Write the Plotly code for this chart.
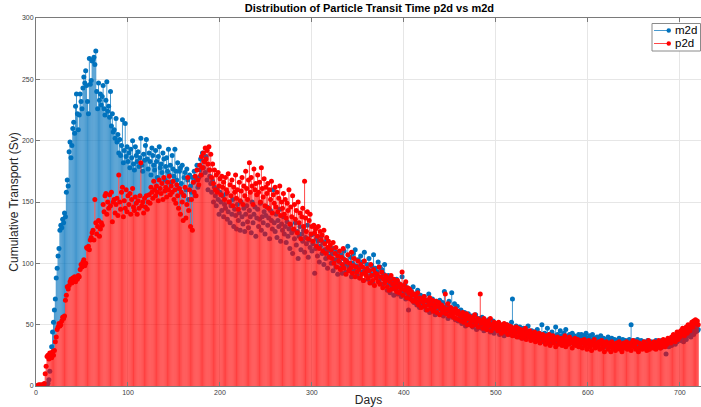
import plotly.graph_objects as go

days = list(range(1, 721))

m2d = [
0, 0, 0, 0, 0, 0, 0, 0, 0, 0,
0, 1, 2, 5, 12, 24, 32, 44, 52, 62,
71, 88, 96, 106, 112, 127, 131, 129, 136, 133,
141, 138, 158, 168, 163, 191, 199, 186, 196, 210,
215, 206, 228, 238, 222, 209, 221, 238, 232, 226,
243, 252, 247, 257, 245, 232, 222, 267, 246, 249,
265, 266, 268, 262, 273, 240, 226, 247, 233, 238,
229, 236, 245, 226, 221, 233, 248, 224, 228, 219,
240, 212, 222, 207, 209, 202, 218, 199, 205, 190,
201, 188, 196, 217, 182, 192, 214, 187, 195, 183,
190, 178, 193, 186, 200, 181, 176, 195, 188, 183,
191, 179, 186, 202, 180, 175, 189, 184, 196, 201,
185, 177, 190, 183, 172, 194, 188, 180, 176, 192,
183, 170, 187, 195, 178, 181, 174, 190, 185, 168,
179, 186, 175, 193, 172, 180, 166, 188, 177, 171,
193, 175, 168, 182, 161, 175, 178, 165, 180, 156,
170, 174, 160, 177, 168, 152, 172, 163, 158, 170,
166, 175, 155, 168, 180, 162, 170, 176, 185, 172,
190, 178, 183, 174, 187, 168, 160, 176, 171, 165,
158, 167, 150, 162, 155, 147, 160, 152, 140, 158,
150, 143, 155, 138, 148, 145, 157, 136, 142, 150,
133, 147, 140, 152, 130, 144, 139, 128, 148, 135,
141, 127, 150, 138, 132, 145, 126, 140, 147, 134,
129, 143, 138, 125, 150, 133, 140, 146, 122, 137,
144, 130, 136, 149, 127, 138, 133, 142, 124, 139,
146, 131, 137, 120, 143, 135, 128, 160, 133, 126,
140, 121, 135, 130, 144, 118, 132, 127, 138, 124,
130, 117, 134, 122, 128, 112, 131, 125, 108, 127,
120, 133, 115, 126, 104, 122, 130, 111, 124, 118,
127, 109, 121, 116, 131, 105, 119, 113, 123, 110,
116, 124, 92, 112, 120, 106, 118, 101, 114, 122,
108, 117, 99, 111, 104, 119, 96, 110, 106, 113,
100, 108, 94, 112, 103, 97, 109, 91, 105, 101,
96, 107, 92, 104, 110, 99, 93, 102, 114, 97,
95, 105, 89, 100, 108, 94, 111, 98, 90, 103,
97, 88, 106, 93, 101, 86, 109, 95, 91, 99,
87, 104, 94, 90, 98, 84, 107, 92, 96, 89,
93, 101, 85, 97, 88, 95, 83, 91, 99, 86,
86, 78, 90, 83, 76, 88, 80, 85, 74, 82,
79, 87, 75, 84, 77, 81, 73, 89, 78, 76,
83, 71, 80, 75, 62, 79, 73, 77, 70, 81,
68, 75, 72, 66, 78, 69, 64, 74, 67, 71,
65, 73, 69, 62, 70, 66, 75, 60, 68, 64,
71, 61, 67, 58, 69, 63, 66, 59, 70, 65,
62, 68, 57, 77, 64, 60, 66, 55, 69, 62,
58, 76, 56, 63, 67, 54, 61, 65, 53, 59,
56, 62, 51, 58, 54, 60, 49, 56, 53, 59,
50, 55, 52, 57, 48, 54, 51, 58, 46, 53,
49, 55, 51, 47, 56, 50, 45, 53, 48, 52,
46, 54, 49, 44, 51, 47, 53, 43, 49, 46,
51, 45, 48, 42, 50, 46, 44, 49, 41, 47,
45, 50, 43, 48, 42, 46, 52, 71, 44, 47,
41, 49, 44, 46, 40, 48, 43, 45, 39, 47,
42, 46, 40, 44, 49, 41, 43, 38, 45, 42,
39, 44, 41, 37, 46, 40, 43, 38, 42, 50,
40, 36, 43, 39, 41, 47, 38, 42, 35, 40,
44, 37, 41, 39, 48, 36, 42, 38, 40, 45,
37, 41, 35, 43, 39, 46, 36, 40, 38, 42,
35, 39, 43, 37, 41, 34, 40, 38, 36, 42,
39, 36, 42, 38, 41, 35, 40, 43, 37, 39,
34, 41, 38, 36, 42, 35, 39, 37, 33, 40,
36, 38, 34, 41, 37, 35, 39, 32, 38, 36,
34, 40, 35, 37, 33, 39, 36, 34, 38, 35,
32, 37, 35, 39, 33, 36, 34, 38, 31, 35,
37, 33, 36, 32, 38, 34, 50, 35, 33, 37,
32, 36, 34, 38, 31, 35, 33, 37, 32, 34,
36, 31, 35, 33, 37, 30, 34, 32, 36, 33,
35, 31, 34, 37, 32, 36, 33, 35, 31, 37,
34, 32, 36, 33, 26, 35, 37, 32, 34, 36,
33, 38, 35, 37, 34, 40, 36, 39, 38, 41,
37, 42, 39, 36, 43, 40, 38, 44, 41, 42,
45, 40, 43, 46, 42, 47, 44, 48, 45, 46,
]

p2d = [
0, 0, 1, 0, 1, 0, 1, 1, 2, 10,
16, 24, 25, 22, 27, 26, 23, 28, 25, 29,
36, 40, 46, 48, 51, 49, 50, 53, 56, 55,
57, 70, 74, 81, 79, 82, 85, 87, 84, 88,
86, 89, 85, 88, 87, 90, 89, 95, 99, 97,
101, 103, 98, 100, 113, 112, 114, 111, 119, 121,
125, 127, 119, 152, 133, 124, 130, 135, 122, 128,
133, 131, 148, 142, 155, 157, 140, 150, 145, 156,
147, 158, 134, 150, 152, 141, 148, 153, 139, 172,
150, 144, 158, 162, 138, 151, 145, 160, 142, 155,
148, 157, 140, 152, 161, 146, 143, 154, 149, 140,
151, 145, 155, 182, 147, 150, 141, 153, 146, 155,
144, 150, 156, 149, 162, 158, 153, 167, 160, 155,
163, 158, 151, 168, 161, 157, 165, 152, 170, 159,
162, 154, 166, 160, 171, 156, 163, 158, 167, 152,
160, 149, 164, 155, 145, 161, 140, 158, 150, 135,
155, 162, 137, 148, 170, 143, 160, 130, 152, 127,
166, 158, 171, 155, 176, 168, 164, 180, 172, 187,
178, 190, 183, 194, 185, 192, 181, 195, 176, 189,
170, 181, 165, 176, 160, 172, 158, 174, 163, 169,
156, 171, 162, 166, 152, 170, 160, 158, 173, 150,
164, 155, 168, 147, 162, 158, 172, 153, 160, 144,
166, 151, 159, 170, 148, 163, 155, 175, 161, 152,
168, 182, 158, 170, 163, 148, 177, 160, 165, 156,
172, 158, 166, 150, 178, 161, 154, 169, 147, 162,
157, 165, 145, 160, 152, 167, 141, 156, 149, 162,
146, 158, 142, 153, 163, 139, 150, 145, 157, 140,
152, 137, 149, 143, 160, 132, 146, 138, 155, 128,
148, 136, 143, 125, 150, 133, 141, 120, 138, 145,
130, 167, 137, 126, 142, 120, 135, 140, 124, 130,
118, 131, 125, 128, 114, 122, 130, 112, 126, 119,
123, 110, 127, 116, 108, 121, 113, 118, 105, 115,
111, 104, 117, 100, 108, 113, 97, 106, 102, 110,
95, 105, 99, 112, 96, 103, 91, 101, 107, 94,
100, 96, 109, 92, 98, 104, 89, 97, 93, 102,
95, 88, 99, 91, 97, 86, 102, 93, 90, 96,
88, 94, 84, 99, 90, 86, 95, 82, 92, 88,
91, 85, 97, 83, 89, 93, 80, 87, 84, 90,
86, 81, 88, 78, 85, 90, 79, 83, 87, 80,
84, 77, 86, 81, 76, 83, 79, 93, 74, 82,
78, 85, 72, 80, 76, 79, 71, 77, 74, 69,
75, 70, 73, 68, 76, 66, 72, 70, 64, 71,
68, 73, 65, 70, 62, 69, 66, 72, 63, 67,
70, 61, 66, 64, 69, 60, 65, 68, 58, 63,
66, 60, 64, 62, 75, 59, 63, 67, 57, 61,
64, 58, 62, 56, 60, 63, 55, 59, 61, 54,
58, 53, 57, 60, 52, 56, 54, 59, 50, 55,
57, 51, 54, 49, 56, 53, 58, 50, 52, 55,
48, 54, 75, 51, 53, 47, 55, 50, 52, 46,
53, 49, 51, 55, 45, 50, 48, 52, 47, 51,
49, 45, 52, 47, 50, 43, 48, 46, 51, 44,
47, 50, 42, 46, 49, 44, 48, 41, 46, 45,
43, 48, 40, 47, 44, 42, 46, 39, 45, 43,
41, 47, 38, 44, 42, 40, 45, 37, 43, 41,
39, 44, 36, 42, 40, 38, 43, 35, 41, 39,
42, 37, 40, 34, 41, 38, 36, 42, 33, 39,
37, 41, 35, 39, 32, 38, 40, 34, 37, 36,
39, 33, 38, 35, 41, 32, 37, 36, 34, 40,
35, 38, 31, 37, 34, 39, 33, 36, 38, 32,
36, 34, 37, 31, 35, 38, 33, 36, 30, 34,
37, 32, 35, 29, 36, 33, 38, 31, 34, 35,
32, 36, 30, 34, 37, 31, 35, 28, 33, 36,
34, 30, 35, 32, 28, 36, 31, 34, 33, 29,
35, 31, 33, 36, 30, 34, 28, 32, 35, 31,
33, 36, 30, 34, 31, 35, 29, 33, 37, 32,
34, 30, 36, 31, 28, 35, 32, 34, 30, 33,
36, 31, 34, 29, 33, 37, 30, 35, 32, 34,
31, 36, 33, 30, 35, 32, 37, 34, 31, 36,
33, 38, 35, 32, 37, 34, 39, 36, 38, 35,
40, 37, 42, 39, 36, 41, 44, 38, 43, 40,
45, 42, 47, 44, 41, 46, 48, 43, 50, 47,
45, 49, 52, 48, 53, 51, 54, 52, 53, 50,
]

series_names = ["m2d", "p2d"]
x_ticks = [0, 100, 200, 300, 400, 500, 600, 700]
y_ticks = [0, 50, 100, 150, 200, 250, 300]

BLUE = "#0072BD"
BLUE_STEM = "rgba(0,114,189,0.72)"
RED = "#FF0000"
RED_STEM = "rgba(255,0,0,0.72)"
FONT = "Helvetica, Arial, Liberation Sans, sans-serif"

fig = go.Figure()

# m2d stems: the part hidden underneath the red stems is not drawn again
blue_visible = [b - min(b, r) for b, r in zip(m2d, p2d)]
fig.add_trace(go.Scatter(
    x=days, y=m2d, mode="markers", name="m2d", showlegend=False,
    marker=dict(color=BLUE, size=5, line=dict(width=0)),
    error_y=dict(type="data", symmetric=False, array=[0] * len(m2d),
                 arrayminus=blue_visible, thickness=1, width=0, color=BLUE_STEM),
))
fig.add_trace(go.Scatter(
    x=days, y=p2d, mode="markers", name="p2d", showlegend=False,
    marker=dict(color=RED, size=5, line=dict(width=0)),
    error_y=dict(type="data", symmetric=False, array=[0] * len(p2d),
                 arrayminus=p2d, thickness=1, width=0, color=RED_STEM),
))

# legend box (MATLAB style, compact)
px0, px1, py0, py1 = 36, 701, 18, 386


def xp(px):
    return (px - px0) / (px1 - px0)


def yp(py):
    return (py1 - py) / (py1 - py0)


shapes = [dict(type="rect", xref="paper", yref="paper",
               x0=xp(652), x1=xp(700.5), y0=yp(51), y1=yp(23.5),
               fillcolor="white", line=dict(color="#8a8a8a", width=1), layer="above")]
annotations = []
for name, row_y, mc, sc in [(series_names[0], 30.5, BLUE, BLUE_STEM), (series_names[1], 43.5, RED, RED_STEM)]:
    shapes.append(dict(type="line", xref="paper", yref="paper",
                       x0=xp(654), x1=xp(669), y0=yp(row_y), y1=yp(row_y),
                       line=dict(color=sc, width=1), layer="above"))
    shapes.append(dict(type="circle", xref="paper", yref="paper",
                       x0=xp(666.5), x1=xp(671), y0=yp(row_y + 2.3), y1=yp(row_y - 2.3),
                       fillcolor=mc, line=dict(color=mc, width=0), layer="above"))
    annotations.append(dict(text=name, xref="paper", yref="paper", x=xp(674), y=yp(row_y),
                            xanchor="left", yanchor="middle", showarrow=False, borderpad=0,
                            font=dict(family=FONT, size=11.5, color="#000000")))

axis_font = dict(family=FONT, size=7, color="#404040")

fig.update_layout(
    width=701, height=407,
    margin=dict(l=36, r=0, t=18, b=21),
    paper_bgcolor="white", plot_bgcolor="white",
    title=dict(text="<b>Distribution of Particle Transit Time p2d vs m2d</b>",
               x=0.527, xanchor="center", y=0.99, yanchor="top",
               font=dict(family=FONT, size=11, color="#000000")),
    showlegend=False,
    shapes=shapes, annotations=annotations,
)

fig.update_xaxes(
    range=[0, 723], tickvals=x_ticks, ticktext=[str(v) for v in x_ticks],
    showgrid=True, gridcolor="#e6e6e6", gridwidth=1,
    showline=True, linecolor="#7a7a7a", linewidth=1, mirror="ticks",
    ticks="inside", ticklen=4, tickcolor="#7a7a7a",
    tickfont=axis_font, zeroline=False,
    title=dict(text="Days", font=dict(family=FONT, size=12, color="#262626"), standoff=1),
)
fig.update_yaxes(
    range=[0, 300], tickvals=y_ticks, ticktext=[str(v) for v in y_ticks],
    showgrid=True, gridcolor="#e6e6e6", gridwidth=1,
    showline=True, linecolor="#7a7a7a", linewidth=1, mirror=False,
    ticks="inside", ticklen=4, tickcolor="#7a7a7a",
    tickfont=axis_font, zeroline=False,
    title=dict(text="Cumulative Transport (Sv)", font=dict(family=FONT, size=12, color="#262626"), standoff=0),
)

fig.write_html("out.html")
